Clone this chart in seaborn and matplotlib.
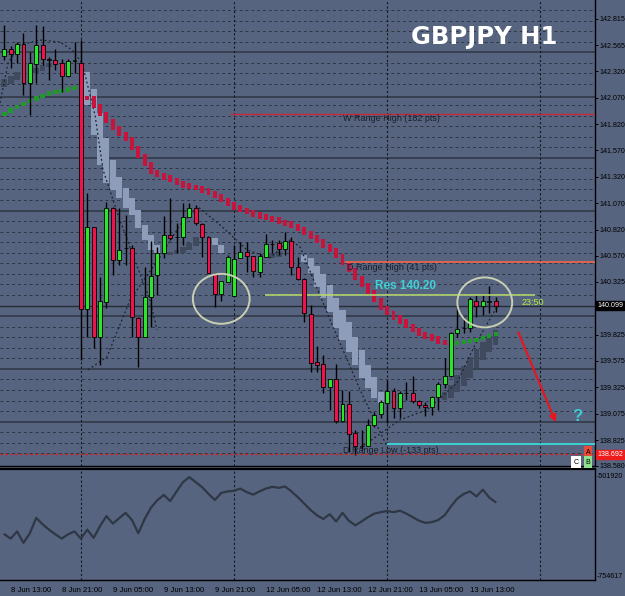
import numpy as np
import pandas as pd
import seaborn as sns
import matplotlib.pyplot as plt
from matplotlib.patches import Ellipse

BG = '#56647f'
sns.set_theme(style='dark', rc={'axes.facecolor': BG, 'figure.facecolor': BG})
plt.rcParams['font.family'] = ['Liberation Sans', 'DejaVu Sans']

# ---- H1 candles, bar index -1 = 8 Jun 12:00 ... 76 = 13 Jun 17:00 ----
first_bar = -1
opens = [142.465, 142.528, 142.481, 142.578, 142.206, 142.389, 142.569, 142.433, 142.427, 142.396, 142.278, 142.420,
         142.401, 140.066, 140.845, 139.806, 140.138, 141.028, 140.533, 140.644, 140.649, 139.986, 139.806, 140.185,
         140.391, 140.596, 140.770, 140.748, 140.748, 140.937, 141.022, 140.874, 140.753, 140.397, 140.211, 140.327,
         140.195, 140.549, 140.611, 140.566, 140.422, 140.564, 140.684, 140.691, 140.634, 140.716, 140.469, 140.350,
         140.021, 139.564, 139.545, 139.333, 139.403, 139.011, 139.169, 138.892, 138.765, 138.771, 138.970, 139.074,
         139.176, 139.286, 139.128, 139.270, 139.270, 139.200, 139.160, 139.138, 139.233, 139.359, 139.428, 139.844,
         139.886, 139.886, 140.147, 140.100, 140.138, 140.145]
highs = [142.758, 142.559, 142.600, 142.683, 142.505, 142.758, 142.749, 142.458, 142.528, 142.433, 142.433, 142.600,
         142.616, 141.167, 140.848, 140.375, 141.085, 141.030, 141.025, 140.959, 140.675, 139.990, 140.464, 140.713,
         140.659, 140.952, 141.117, 140.883, 141.075, 141.075, 141.054, 140.880, 140.760, 140.412, 140.334, 140.580,
         140.675, 140.706, 140.706, 140.570, 140.599, 140.779, 140.722, 140.722, 140.801, 140.748, 140.564, 140.359,
         140.107, 139.718, 139.633, 139.403, 139.548, 139.302, 139.286, 138.923, 138.923, 139.024, 139.096, 139.207,
         139.396, 139.321, 139.292, 139.380, 139.428, 139.207, 139.191, 139.245, 139.380, 139.602, 139.850, 140.091,
         139.996, 140.185, 140.201, 140.201, 140.287, 140.185]
lows = [142.427, 142.351, 142.396, 142.095, 141.906, 142.206, 142.379, 142.237, 142.332, 142.127, 142.269, 142.301,
        139.586, 139.806, 139.697, 139.538, 140.075, 140.391, 140.485, 140.485, 139.806, 139.522, 139.800, 139.901,
        140.201, 140.549, 140.722, 140.599, 140.675, 140.935, 140.864, 140.564, 140.405, 140.091, 140.147, 140.320,
        140.190, 140.549, 140.422, 140.375, 140.375, 140.558, 140.596, 140.580, 140.580, 140.391, 140.343, 139.949,
        139.475, 139.475, 139.270, 139.112, 138.986, 139.000, 138.717, 138.686, 138.733, 138.770, 138.954, 139.034,
        138.992, 139.037, 139.037, 139.207, 139.176, 139.128, 139.055, 139.065, 139.112, 139.318, 139.425, 139.806,
        139.839, 139.854, 139.996, 140.012, 140.028, 140.043]
closes = [142.528, 142.481, 142.578, 142.206, 142.396, 142.569, 142.433, 142.431, 142.386, 142.278, 142.417, 142.422,
          140.066, 140.845, 139.801, 140.145, 141.028, 140.533, 140.627, 140.647, 139.996, 139.806, 140.180, 140.384,
          140.596, 140.770, 140.738, 140.750, 140.937, 141.022, 140.880, 140.753, 140.407, 140.211, 140.334, 140.564,
          140.542, 140.611, 140.571, 140.426, 140.571, 140.684, 140.681, 140.634, 140.716, 140.469, 140.350, 140.028,
          139.560, 139.538, 139.333, 139.403, 139.002, 139.169, 138.885, 138.765, 138.768, 138.970, 139.065, 139.191,
          139.286, 139.128, 139.270, 139.273, 139.200, 139.160, 139.138, 139.233, 139.359, 139.428, 139.844, 139.877,
          139.890, 140.161, 140.097, 140.145, 140.140, 140.097]

# thick red trend ribbon (bars 12..69)
red_start = 12
red_band = [142.067, 141.991, 141.915, 141.849, 141.783, 141.726, 141.679, 141.593, 141.518, 141.442,
            141.366, 141.338, 141.314, 141.290, 141.262, 141.236, 141.224, 141.215, 141.189, 141.167,
            141.139, 141.101, 141.063, 141.028, 141.006, 140.987, 140.962, 140.943, 140.931, 140.914,
            140.893, 140.877, 140.855, 140.826, 140.788, 140.751, 140.713, 140.665, 140.627, 140.571,
            140.504, 140.438, 140.362, 140.296, 140.230, 140.154, 140.078, 140.031, 139.984, 139.946,
            139.908, 139.870, 139.832, 139.806, 139.785, 139.756, 139.747, 139.737]
# green dotted trend (start and end)
green_head = [141.915, 141.947, 141.982, 142.010, 142.039, 142.060, 142.086, 142.108, 142.124, 142.133, 142.147, 142.162]
green_tail_start = 70
green_tail = [139.747, 139.756, 139.766, 139.775, 139.794, 139.813, 139.832]

# pale ribbon blocks
pale_bar = [12, 13, 14, 15, 16, 17, 18, 19, 20, 21, 22, 23, 32, 33,
            46, 47, 48, 49, 50, 51, 52, 53, 54, 55, 56, 57, 58]
pale_hi = [142.313, 142.152, 141.925, 141.688, 141.480, 141.319, 141.215, 141.120, 141.006, 140.864, 140.770, 140.675,
           140.741, 140.675, 140.580, 140.552, 140.476, 140.400, 140.296, 140.173, 140.059, 139.946, 139.804, 139.680,
           139.538, 139.425, 139.283]
pale_lo = [142.001, 141.717, 141.432, 141.262, 141.196, 141.120, 141.025, 140.959, 140.836, 140.722, 140.627, 140.599,
           140.675, 140.599, 140.514, 140.410, 140.277, 140.173, 140.040, 139.889, 139.775, 139.662, 139.538, 139.415,
           139.321, 139.226, 139.179]

# dark ribbon blocks
dark_bar = [-1, 0, 1, 4, 5, 6, 25, 26, 27, 28, 29, 41, 42, 68, 69, 70, 71, 72, 73, 74, 75, 76]
dark_hi = [142.247, 142.275, 142.313, 142.351, 142.379, 142.398, 140.609, 140.627, 140.656, 140.694, 140.751,
           140.599, 140.609, 139.283, 139.349, 139.444, 139.529, 139.614, 139.690, 139.756, 139.813, 139.870]
dark_lo = [142.171, 142.200, 142.237, 142.304, 142.323, 142.361, 140.580, 140.590, 140.599, 140.627, 140.665,
           140.552, 140.561, 139.207, 139.226, 139.283, 139.340, 139.415, 139.510, 139.586, 139.662, 139.728]

# dotted channel lines (bar, price)
dots1_bar = [-1.68, -0.42, 1.46, 4.59, 7.73, 9.61, 11.18, 13.21, 14.47, 16.82, 19.01, 21.83, 22.93]
dots1_val = [142.020, 142.398, 142.569, 142.616, 142.597, 142.522, 142.398, 141.906, 141.385, 140.959, 140.599, 140.154, 139.870]
dots2_bar = [12.12, 15.09, 18.70, 23.40, 26.54, 29.36, 32.81, 37.04, 40.64, 43.78, 45.34, 50.05, 54.75, 59.0]
dots2_val = [139.491, 139.614, 140.154, 140.561, 140.864, 141.035, 140.864, 140.627, 140.552, 140.722, 140.656, 139.965, 139.302, 138.762]
dots3_bar = [54.75, 61.02, 65.25, 69.95, 72.77, 76.22]
dots3_val = [138.752, 139.018, 139.112, 139.368, 139.728, 140.088]

# oscillator in the sub window
osc = [-650260, -660980, -643110, -671710, -647580, -609150, -625240, -638640, -650260, -660980, -650260, -643110,
       -660980, -638640, -659190, -629710, -604690, -623450, -610050, -596640, -614510, -647580, -611830, -583240,
       -564470, -551960, -567150, -543030, -519790, -507280, -519790, -532300, -549280, -564470, -546600, -543030,
       -541240, -535880, -544810, -551070, -543030, -535880, -531410, -534090, -530520, -543030, -557320, -573410,
       -589490, -602900, -611830, -600220, -618090, -596640, -616300, -627920, -618090, -607370, -598430, -594860,
       -592170, -594860, -591280, -598430, -607370, -616300, -621660, -619880, -614510, -602900, -580560, -560900,
       -549280, -543030, -555540, -538560, -558220, -569830]

price_ticks = [142.815, 142.565, 142.320, 142.070, 141.820, 141.570, 141.320, 141.070, 140.820, 140.570, 140.325,
               139.825, 139.575, 139.325, 139.075, 138.825, 138.580]
solid_levels = [142.5, 142.08, 141.5, 141.0, 140.0, 139.5, 139.0]
bid = 140.099
time_ticks = [0, 8, 16, 24, 32, 40, 48, 56, 64, 72]
time_labels = ['8 Jun 13:00', '8 Jun 21:00', '9 Jun 05:00', '9 Jun 13:00', '9 Jun 21:00',
               '12 Jun 05:00', '12 Jun 13:00', '12 Jun 21:00', '13 Jun 05:00', '13 Jun 13:00']
day_breaks = [11, 35, 59, 83]

df = pd.DataFrame({'open': opens, 'high': highs, 'low': lows, 'close': closes})
df['bar'] = np.arange(first_bar, first_bar + len(df))

# ---- figure in pixel layout ----
W, H = 625, 596
fig = plt.figure(figsize=(W / 100, H / 100), dpi=100)


def px_axes(left, top, right, bottom):
    return fig.add_axes([left / W, 1 - bottom / H, (right - left) / W, (bottom - top) / H])


ax = px_axes(0, 0, 595, 466)
ax2 = px_axes(0, 469, 595, 580)
XL = (-1.68, 91.58)
LBL = 5.1

# grid
for lvl in np.arange(138.7, 142.95, 0.1):
    if min(abs(lvl - s) for s in solid_levels) > 0.03:
        ax.axhline(lvl, color='#2e3545', lw=0.7, ls=(0, (3, 3)), zorder=1)
for s in solid_levels:
    ax.axhline(s, color='#373f50', lw=1.4, zorder=1)
ax.axhline(bid, color='#262b36', lw=1.0, zorder=1)
for a in (ax, ax2):
    for b in day_breaks:
        a.axvline(b, color='#15181f', lw=0.8, ls=(0, (2, 2)), zorder=1)

# ribbons
ax.bar(pale_bar, np.array(pale_hi) - np.array(pale_lo), bottom=pale_lo, width=0.95,
       color='#8e9dba', lw=0, zorder=2)
ax.bar(dark_bar, np.array(dark_hi) - np.array(dark_lo), bottom=dark_lo, width=0.9,
       color='#3f4a5f', lw=0, zorder=2.5)
rb = np.array(red_band)
prev = np.r_[rb[0], rb[:-1]]
rb_lo = np.minimum(prev, rb) - 0.022
rb_hi = np.maximum(prev, rb) + 0.022
ax.bar(np.arange(red_start, red_start + len(rb)), rb_hi - rb_lo, bottom=rb_lo, width=0.62,
       color='#c8143c', lw=0, zorder=4)

# dotted channel lines
for bx, by in ((dots1_bar, dots1_val), (dots2_bar, dots2_val), (dots3_bar, dots3_val)):
    sns.lineplot(x=bx, y=by, ax=ax, color='#1c212c', lw=0.9, ls=(0, (1.5, 2)), sort=False, zorder=3)

# green dotted trend
sns.scatterplot(x=np.arange(first_bar, first_bar + len(green_head)), y=green_head, ax=ax,
                marker='s', s=11, color='#1f9a2a', edgecolor='none', zorder=3)
sns.scatterplot(x=np.arange(green_tail_start, green_tail_start + len(green_tail)), y=green_tail, ax=ax,
                marker='s', s=9, color='#1f9a2a', edgecolor='none', zorder=3)

# candles
up = df['close'] >= df['open']
body_lo = np.minimum(df['open'], df['close'])
body_h = np.maximum((df['close'] - df['open']).abs(), 0.006)
ax.vlines(df['bar'], df['low'], df['high'], color='black', lw=1.0, zorder=5)
ax.bar(df['bar'], body_h, bottom=body_lo, width=0.62, color=np.where(up, '#2ae62a', '#f0124a'),
       edgecolor='black', linewidth=0.6, zorder=6)

# level lines and labels
ax.hlines(141.915, 34.4, XL[1], color='#c4283c', lw=1.0, zorder=5)
ax.text(52.1, 141.868, 'W Range High (182 pts)', fontsize=6.5, color='#1c1f2a', va='center', zorder=7)
ax.hlines(140.514, 52.4, XL[1], color='#e8644e', lw=1.3, zorder=5)
ax.text(52.7, 140.457, 'D Range High (41 pts)', fontsize=6.5, color='#1c1f2a', va='center', zorder=7)
ax.hlines(140.201, 39.9, 82.2, color='#b8d870', lw=1.3, alpha=0.9, zorder=5)
ax.text(57.1, 140.287, 'Res 140.20', fontsize=8.5, fontweight='bold', color='#3fd3d8', va='center', zorder=7)
ax.text(80.0, 140.126, '23:50', fontsize=6.5, color='#b8f040', va='center', zorder=7)
ax.hlines(138.790, 59.0, XL[1], color='#3ddada', lw=1.3, zorder=5)
ax.text(52.1, 138.724, 'D Range Low (-133 pts)', fontsize=6.5, color='#1c1f2a', va='center', zorder=7)
ax.axhline(138.692, color='#e01a1a', lw=0.9, ls=(0, (2, 2)), zorder=5)

for cx, cy, w in ((33.0, 140.164, 8.9), (74.3, 140.130, 8.6)):
    ax.add_patch(Ellipse((cx, cy), w, 0.473, fill=False, ec='#c9cfb2', lw=1.4, zorder=7))

ax.annotate('', xy=(85.6, 138.97), xytext=(79.4, 139.87),
            arrowprops=dict(arrowstyle='-|>', color='#e8141e', lw=1.5, mutation_scale=10), zorder=7)
ax.text(88.8, 139.05, '?', color='#3ccfd6', fontsize=12, fontweight='bold', ha='center', va='center', zorder=7)

fig.text(484 / W, 1 - 37 / H, 'GBPJPY H1', color='white', fontsize=17.5, fontweight='bold',
         family='DejaVu Sans', ha='center', va='center')

# main axis styling
ax.set_xlim(XL)
ax.set_ylim(138.582, 142.995)
ax.yaxis.tick_right()
ax.set_yticks(price_ticks)
ax.set_yticklabels([f'{p:.3f}' for p in price_ticks])
ax.tick_params(axis='y', labelsize=LBL, colors='black', length=2, width=0.7, pad=1, direction='out')
ax.set_xticks([])
ax.set_xlabel('')
ax.set_ylabel('')
for side in ('top', 'left'):
    ax.spines[side].set_visible(False)
for side in ('right', 'bottom'):
    ax.spines[side].set_visible(True)
    ax.spines[side].set_color('black')
    ax.spines[side].set_linewidth(1.0)
ax.grid(False)

ax.annotate(f'{bid:.3f}', xy=(1.0, bid), xycoords=('axes fraction', 'data'), xytext=(1.5, 0),
            textcoords='offset points', fontsize=LBL, color='white', va='center', ha='left',
            bbox=dict(boxstyle='square,pad=0.15', fc='black', ec='black'), annotation_clip=False)
ax.annotate('138.692', xy=(1.0, 138.692), xycoords=('axes fraction', 'data'), xytext=(1.5, 0),
            textcoords='offset points', fontsize=LBL, color='white', va='center', ha='left',
            bbox=dict(boxstyle='square,pad=0.15', fc='#ee1c1c', ec='#ee1c1c'), annotation_clip=False)

for lab, cx, cy, fc in (('A', 588, 452, '#e84a3a'), ('C', 576, 462, 'white'), ('B', 588, 462, '#8ee08e')):
    fig.text(cx / W, 1 - cy / H, lab, fontsize=5, ha='center', va='center', color='black',
             bbox=dict(boxstyle='square,pad=0.3', fc=fc, ec='none'))

# sub window oscillator
sns.lineplot(x=df['bar'], y=osc, ax=ax2, color='#2f3745', lw=1.6, zorder=3)
ax2.set_xlim(XL)
ax2.set_ylim(-764630, -486908)
ax2.yaxis.tick_right()
ax2.set_yticks([-501920, -754617])
ax2.set_yticklabels(['-501920', '-754617'])
ax2.tick_params(axis='y', labelsize=LBL, colors='black', length=0, pad=1.5)
ax2.set_xticks(time_ticks)
ax2.set_xticklabels(time_labels)
for lab in ax2.get_xticklabels():
    lab.set_ha('left')
ax2.tick_params(axis='x', labelsize=5.6, colors='black', length=3, width=0.7, pad=2, direction='out')
ax2.set_xlabel('')
ax2.set_ylabel('')
ax2.spines['left'].set_visible(False)
for side, lw in (('top', 1.6), ('right', 1.0), ('bottom', 1.0)):
    ax2.spines[side].set_visible(True)
    ax2.spines[side].set_color('black')
    ax2.spines[side].set_linewidth(lw)
ax2.grid(False)

fig.savefig('out.png', dpi=100, facecolor=BG)
